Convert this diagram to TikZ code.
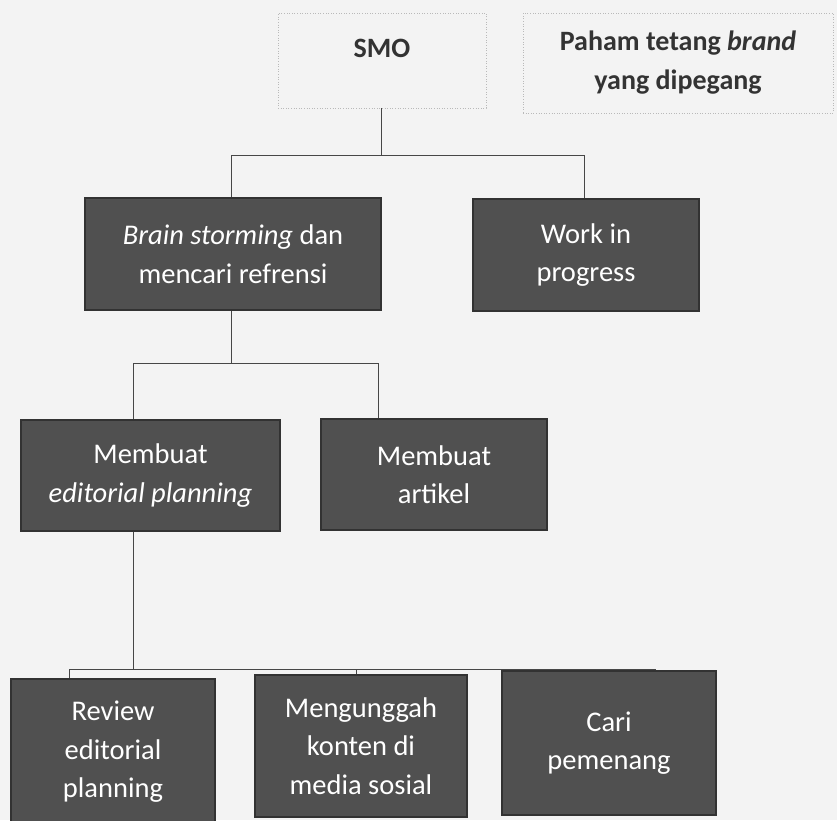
\documentclass[tikz,border=0pt]{standalone}
\usepackage{fontspec}
\setmainfont{Carlito}
\definecolor{paper}{RGB}{243,243,243}
\definecolor{boxfill}{RGB}{80,80,80}
\definecolor{boxline}{RGB}{50,50,50}
\definecolor{wire}{RGB}{70,70,70}
\begin{document}
\begin{tikzpicture}[x=1pt,y=-1pt,
  darkbox/.style={draw=boxline, line width=1.4pt, fill=boxfill, text=white,
    font=\fontsize{28.5}{38.5}\selectfont, align=center, inner sep=0pt,
    minimum width=#1},
  dotbox/.style={draw=gray!55, dotted, line width=0.6pt, text=black!80,
    font=\fontsize{28}{39}\selectfont\bfseries, align=center, inner sep=0pt},
  wireline/.style={draw=wire, line width=0.7pt}]
\fill[paper] (0,0) rectangle (837,820);
\useasboundingbox (0,0) rectangle (837,820);

% top dotted boxes
\node[dotbox, minimum width=208pt, minimum height=95pt, text depth=25pt] (smo) at (382,60.5) {SMO};
\node[dotbox, minimum width=310pt, minimum height=100pt] (paham) at (678,63) {Paham tetang \textit{brand}\\yang dipegang};

% level 1
\node[darkbox=296pt, minimum height=112pt] (brain) at (233,254) {\textit{Brain storming} dan\\mencari refrensi};
\node[darkbox=226pt, minimum height=112pt] (work) at (586,255) {Work in\\progress};

% level 2
\node[darkbox=259pt, minimum height=111pt] (edit) at (150.5,475.5) {Membuat\\\textit{editorial planning}};
\node[darkbox=226pt, minimum height=111pt] (artikel) at (434,474.5) {Membuat\\artikel};

% level 3
\node[darkbox=204pt, minimum height=146pt] (review) at (113,752) {Review\\editorial\\planning};
\node[darkbox=212pt, minimum height=142pt] (unggah) at (361,746) {Mengunggah\\konten di\\media sosial};
\node[darkbox=214pt, minimum height=144pt] (cari) at (609,743) {Cari\\pemenang};

% junctions
\coordinate (j1) at (381,155);
\coordinate (j1l) at (231,155);
\coordinate (j1r) at (584,155);
\coordinate (j2) at (231,363);
\coordinate (j2l) at (133,363);
\coordinate (j2r) at (378,363);
\coordinate (j3) at (133,669);
\coordinate (j3l) at (69,669);
\coordinate (j3m) at (356,669);
\coordinate (j3r) at (655,669);

% connectors level 1
\draw[wireline] (smo.south -| j1) -- (j1);
\draw[wireline] (j1l) -- (j1r);
\draw[wireline] (j1l) -- (j1l |- brain.north);
\draw[wireline] (j1r) -- (j1r |- work.north);

% connectors level 2
\draw[wireline] (brain.south -| j2) -- (j2);
\draw[wireline] (j2l) -- (j2r);
\draw[wireline] (j2l) -- (j2l |- edit.north);
\draw[wireline] (j2r) -- (j2r |- artikel.north);

% connectors level 3
\draw[wireline] (edit.south -| j3) -- (j3);
\draw[wireline] (j3l) -- (j3r);
\draw[wireline] (j3l) -- (j3l |- review.north);
\draw[wireline] (j3m) -- (j3m |- unggah.north);
\draw[wireline] (j3r) -- (j3r |- cari.north);
\end{tikzpicture}
\end{document}
